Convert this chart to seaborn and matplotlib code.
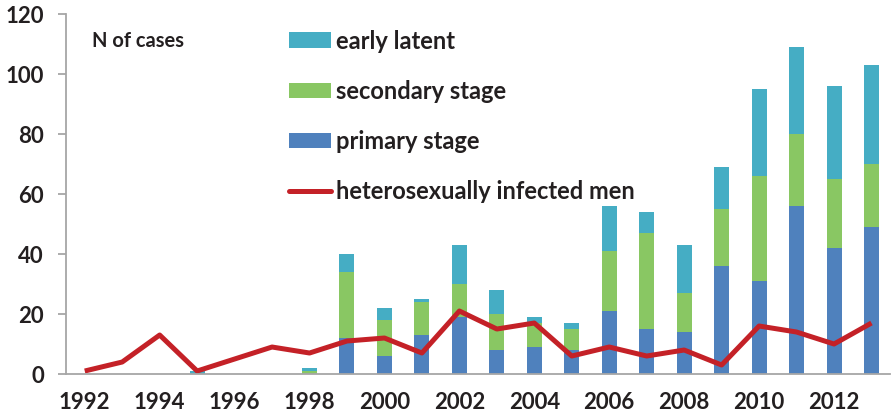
import matplotlib
matplotlib.use("Agg")
import matplotlib.pyplot as plt
from matplotlib.patches import Patch
from matplotlib.lines import Line2D
import numpy as np
import pandas as pd
import seaborn as sns

# ── Data ──────────────────────────────────────────────────────────────────────
years = list(range(1992, 2014))
primary = [0, 0, 0, 0, 0, 0, 0, 12, 6, 13, 19, 8, 9, 8, 21, 15, 14, 36, 31, 56, 42, 49]
secondary = [0, 0, 0, 0, 0, 0, 1, 22, 12, 11, 11, 12, 8, 7, 20, 32, 13, 19, 35, 24, 23, 21]
early_latent = [0, 0, 0, 1, 0, 0, 1, 6, 4, 1, 13, 8, 2, 2, 15, 7, 16, 14, 29, 29, 31, 33]
hetero_men = [1, 4, 13, 1, 5, 9, 7, 11, 12, 7, 21, 15, 17, 6, 9, 6, 8, 3, 16, 14, 10, 17]

C_PRIMARY = "#4F81BD"
C_SECONDARY = "#89C763"
C_EARLY = "#45ADC4"
C_RED = "#C42127"
C_AXIS = "#A6A6A6"
C_TEXT = "#231F20"

sns.set_theme(style="white")
plt.rcParams["font.family"] = ["Lato", "DejaVu Sans"]

df = pd.DataFrame({
    "year": [str(y) for y in years],
    "primary": primary,
    "secondary": secondary,
    "early": early_latent,
})
df["prim_sec"] = df["primary"] + df["secondary"]
df["total"] = df["prim_sec"] + df["early"]

fig = plt.figure(figsize=(8.92, 4.2), dpi=100)
ax = fig.add_axes([0.074, 0.1095, 0.924, 0.857])

# stacked bars: draw cumulative totals back to front
for col, colour in [("total", C_EARLY), ("prim_sec", C_SECONDARY), ("primary", C_PRIMARY)]:
    sns.barplot(data=df, x="year", y=col, color=colour, saturation=1,
                width=0.4, ax=ax, errorbar=None, linewidth=0)

sns.lineplot(x=np.arange(len(years)), y=hetero_men, color=C_RED, linewidth=3.6,
             ax=ax, solid_capstyle="butt")

ax.set_xlim(-0.5, len(years) - 0.5)
ax.set_ylim(0, 120)
ax.set_yticks(range(0, 121, 20))
ax.set_xlabel("")
ax.set_ylabel("")

# x labels every other year, ticks between categories
ax.set_xticks(np.arange(0, len(years), 2))
ax.set_xticklabels([str(y) for y in years[::2]])
ax.set_xticks(np.arange(-0.5, len(years), 1), minor=True)
ax.tick_params(axis="x", which="major", length=0, pad=13)
ax.tick_params(axis="x", which="minor", length=6, width=1.3, color=C_AXIS, direction="out")
ax.tick_params(axis="y", length=6, width=1.3, color=C_AXIS, direction="out", pad=10, left=True)
ax.tick_params(labelsize=16, labelcolor=C_TEXT)
for lab in ax.get_xticklabels() + ax.get_yticklabels():
    lab.set_fontweight("bold")

sns.despine(ax=ax)
for side in ("left", "bottom"):
    ax.spines[side].set_color(C_AXIS)
    ax.spines[side].set_linewidth(1.3)

ax.text(0.032, 0.925, "N of cases", transform=ax.transAxes, fontsize=14.5,
        fontweight="bold", color=C_TEXT, va="center")

handles = [
    Patch(facecolor=C_EARLY, edgecolor="none"),
    Patch(facecolor=C_SECONDARY, edgecolor="none"),
    Patch(facecolor=C_PRIMARY, edgecolor="none"),
    Line2D([0], [0], color=C_RED, linewidth=3.6),
]
labels = ["early latent", "secondary stage", "primary stage", "heterosexually infected men"]
leg = ax.legend(handles, labels, loc="upper left", bbox_to_anchor=(0.27, 0.957),
                frameon=False, fontsize=17, handlelength=1.8, handleheight=0.65,
                handletextpad=0.2, labelspacing=1.15, borderpad=0, borderaxespad=0)
for t in leg.get_texts():
    t.set_fontweight("bold")
    t.set_color(C_TEXT)

fig.savefig("out.png", dpi=100)
